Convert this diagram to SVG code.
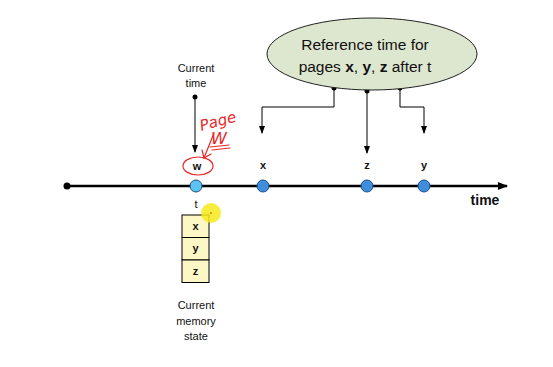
<svg xmlns="http://www.w3.org/2000/svg" width="553" height="367" viewBox="0 0 553 367">
<defs>
<style>
.t{font-family:"Liberation Sans",Arial,sans-serif;fill:#111;}
.s{font-size:11px;text-anchor:middle;}
.b{font-size:11px;font-weight:bold;text-anchor:middle;}
.ln{stroke:#000;stroke-width:1;fill:none;}
.red{stroke:#e8282a;stroke-width:1.2;fill:none;stroke-linecap:round;}
.pt{fill:#3f8ede;stroke:#1f4f7f;stroke-width:1;}
</style>
<marker id="ah" viewBox="0 0 8 8" refX="7" refY="4" markerWidth="8" markerHeight="8" markerUnits="userSpaceOnUse" orient="auto">
<path d="M0,1 L8,4 L0,7 z" fill="#000"/>
</marker>
<marker id="ah2" viewBox="0 0 10 10" refX="9" refY="5" markerWidth="10" markerHeight="10" markerUnits="userSpaceOnUse" orient="auto">
<path d="M0,1 L10,5 L0,9 z" fill="#000"/>
</marker>
</defs>
<rect width="553" height="367" fill="#fff"/>

<g id="connectors">
<line x1="67" y1="186" x2="507" y2="186" stroke="#000" stroke-width="2.5" marker-end="url(#ah2)"/>
<circle cx="67" cy="186" r="3.5" fill="#000"/>
<line x1="195" y1="97" x2="195" y2="152" class="ln" marker-end="url(#ah)"/>
<circle cx="195" cy="97" r="2.5" fill="#000"/>
<polyline points="334,88 334,107 262,107 262,133" class="ln" marker-end="url(#ah)"/>
<polyline points="367,91 367,153" class="ln" marker-end="url(#ah)"/>
<polyline points="400,88 400,107 424,107 424,133" class="ln" marker-end="url(#ah)"/>
<circle cx="334" cy="88" r="2.5" fill="#000"/>
<circle cx="367" cy="91" r="2.5" fill="#000"/>
<circle cx="400" cy="88" r="2.5" fill="#000"/>
</g>

<g id="ref-ellipse">
<ellipse cx="372" cy="54" rx="105" ry="36" fill="#dde6cf" stroke="#222" stroke-width="1"/>
<text class="t" x="365" y="50" font-size="15.5" text-anchor="middle">Reference time for</text>
<text class="t" x="365" y="72" font-size="15.5" text-anchor="middle">pages <tspan font-weight="bold">x</tspan>, <tspan font-weight="bold">y</tspan>, <tspan font-weight="bold">z</tspan> after t</text>
</g>

<g id="current-time">
<text class="t s" x="196" y="72">Current</text>
<text class="t s" x="196" y="87">time</text>
</g>

<g id="point-w">
<circle cx="196" cy="186" r="6" fill="#5cc3f3" stroke="#1f4f7f" stroke-width="1"/>
<text class="t b" x="197" y="170">w</text>
<text class="t s" x="196" y="208">t</text>
</g>
<g id="point-x">
<circle cx="263" cy="186" r="6" class="pt"/>
<text class="t b" x="263" y="169">x</text>
</g>
<g id="point-z">
<circle cx="367" cy="186" r="6" class="pt"/>
<text class="t b" x="367" y="169">z</text>
</g>
<g id="point-y">
<circle cx="424" cy="186" r="6" class="pt"/>
<text class="t b" x="424" y="169">y</text>
</g>
<g id="time-label">
<text class="t" x="485" y="205" font-size="14" font-weight="bold" text-anchor="middle">time</text>
</g>

<g id="annotation">
<ellipse cx="198" cy="166" rx="15" ry="9" class="red"/>
<text x="199" y="127" font-family="'DejaVu Sans',sans-serif" font-style="italic" font-size="15" fill="#e8282a" transform="rotate(-15 215 120)">Page</text>
<text x="211" y="144" font-family="'DejaVu Sans',sans-serif" font-style="italic" font-size="16" fill="#e8282a">W</text>
<line x1="210" y1="147" x2="229" y2="145" class="red"/>
<line x1="212" y1="150" x2="230" y2="148" class="red"/>
<line x1="214" y1="133" x2="204" y2="158" class="red"/>
<polyline points="202,150 204,158 211,154" class="red"/>
</g>

<g id="memory">
<rect x="182" y="215" width="27" height="22.5" fill="#fcf7c5" stroke="#000"/>
<rect x="182" y="237.5" width="27" height="22.5" fill="#fcf7c5" stroke="#000"/>
<rect x="182" y="260" width="27" height="22.5" fill="#fcf7c5" stroke="#000"/>
<text class="t b" x="195.5" y="230">x</text>
<text class="t b" x="195.5" y="252">y</text>
<text class="t b" x="195.5" y="275">z</text>
<text class="t s" x="196" y="309">Current</text>
<text class="t s" x="196" y="325">memory</text>
<text class="t s" x="196" y="340">state</text>
</g>

<g id="cursor">
<circle cx="211" cy="213" r="10" fill="#f7ea1a" opacity="0.85"/>
<circle cx="211" cy="213" r="0.8" fill="#e02020"/>
</g>
</svg>
